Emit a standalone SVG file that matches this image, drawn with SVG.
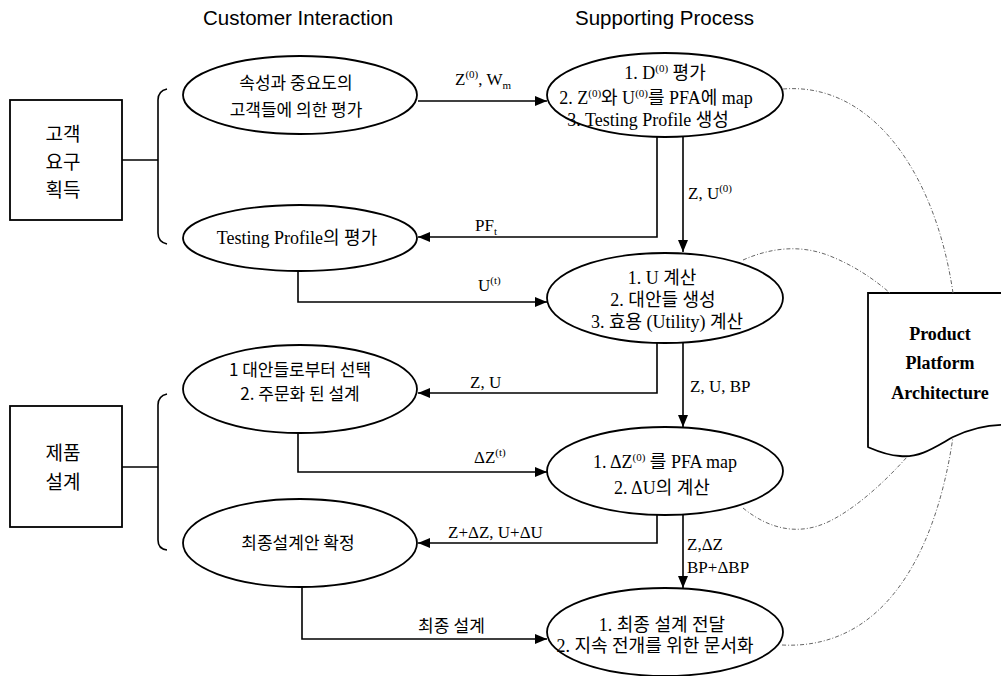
<svg xmlns="http://www.w3.org/2000/svg" width="1001" height="676" viewBox="0 0 1001 676">
<style>
.hdr{font-family:"Liberation Sans","Noto Sans CJK KR",sans-serif;font-size:20.5px;fill:#000}
.t{font-family:"Liberation Serif","Noto Sans CJK KR",serif;font-size:18px;fill:#000;text-anchor:middle}
.k{font-family:"Noto Sans CJK KR","Liberation Sans",sans-serif;font-size:17px;fill:#000;text-anchor:middle}
.bx{font-family:"Noto Sans CJK KR","Liberation Sans",sans-serif;font-size:19px;fill:#000;text-anchor:middle}
.lb{font-family:"Liberation Serif","Noto Sans CJK KR",serif;font-size:17px;fill:#000}
.pp{font-family:"Liberation Serif",serif;font-size:18px;font-weight:bold;fill:#000;text-anchor:middle}
.sh{fill:#fff;stroke:#000;stroke-width:1.8}
.ln{fill:none;stroke:#000;stroke-width:1.6}
.dt{fill:none;stroke:#666;stroke-width:1;stroke-dasharray:4 2 1 2}
</style>
<defs>
<marker id="ah" viewBox="0 0 12 10" refX="12" refY="5" markerWidth="12" markerHeight="10" markerUnits="userSpaceOnUse" orient="auto">
<path d="M0,0 L12,5 L0,10 Z" fill="#000"/>
</marker>
</defs>
<rect width="1001" height="676" fill="#fff"/>

<text class="hdr" x="203" y="25">Customer Interaction</text>
<text class="hdr" x="575" y="25">Supporting Process</text>

<g id="doc-pfa">
<path class="sh" d="M868,293 H1008 V425 C985,424 968,430 953,437 C935,447 920,458 900,456 C885,455 875,450 868,447 Z" stroke-width="2"/>
<text class="pp" x="940" y="340">Product</text>
<text class="pp" x="940" y="369">Platform</text>
<text class="pp" x="940" y="399">Architecture</text>
</g>

<g id="dotted">
<path class="dt" d="M783,89 C870,82 935,170 953,293"/>
<path class="dt" d="M743,260 C770,248 800,244 830,256 C855,266 875,280 890,293"/>
<path class="dt" d="M743,508 C770,530 800,536 830,521 C860,506 890,476 907,457"/>
<path class="dt" d="M782,645 C880,650 935,560 953,437"/>
</g>

<g id="box-req">
<rect class="sh" x="10" y="100" width="112" height="120"/>
<text class="bx" x="63" y="141">고객</text>
<text class="bx" x="63" y="169">요구</text>
<text class="bx" x="63" y="197">획득</text>
</g>
<g id="box-design">
<rect class="sh" x="10" y="406" width="112" height="121"/>
<text class="bx" x="63" y="460">제품</text>
<text class="bx" x="63" y="489">설계</text>
</g>

<g id="brackets">
<path class="ln" d="M122,160 H158"/>
<path class="ln" d="M167,89 Q158,91 158,100 V233 Q158,242 167,244"/>
<path class="ln" d="M122,467 H158"/>
<path class="ln" d="M167,394 Q158,396 158,405 V540 Q158,549 167,550"/>
</g>

<g id="connectors">
<path class="ln" d="M418,101 H547" marker-end="url(#ah)"/>
<path class="ln" d="M657,137 V237 H418" marker-end="url(#ah)"/>
<path class="ln" d="M683,137 V252" marker-end="url(#ah)"/>
<path class="ln" d="M298,270 V302 H547" marker-end="url(#ah)"/>
<path class="ln" d="M657,343 V393 H418" marker-end="url(#ah)"/>
<path class="ln" d="M683,343 V427" marker-end="url(#ah)"/>
<path class="ln" d="M298,433 V472 H547" marker-end="url(#ah)"/>
<path class="ln" d="M657,515 V543 H418" marker-end="url(#ah)"/>
<path class="ln" d="M683,515 V588" marker-end="url(#ah)"/>
<path class="ln" d="M302,587 V639 H547" marker-end="url(#ah)"/>

<text class="lb" x="455" y="85">Z<tspan font-size="11" dy="-7">(0)</tspan><tspan dy="7">, W</tspan><tspan font-size="11" dy="4">m</tspan></text>
<text class="lb" x="688" y="199">Z, U<tspan font-size="11" dy="-7">(0)</tspan></text>
<text class="lb" x="475" y="231">PF<tspan font-size="11" dy="4">t</tspan></text>
<text class="lb" x="478" y="291">U<tspan font-size="11" dy="-7">(t)</tspan></text>
<text class="lb" x="470" y="388">Z, U</text>
<text class="lb" x="690" y="392">Z, U, BP</text>
<text class="lb" x="474" y="463">ΔZ<tspan font-size="11" dy="-7">(t)</tspan></text>
<text class="lb" x="448" y="538">Z+ΔZ, U+ΔU</text>
<text class="lb" x="687" y="550">Z,ΔZ</text>
<text class="lb" x="687" y="573">BP+ΔBP</text>
<text class="lb" x="418" y="632" font-family="Noto Sans CJK KR, sans-serif" font-size="16">최종 설계</text>
</g>

<g id="node-l1">
<ellipse class="sh" cx="300" cy="95" rx="117" ry="39"/>
<text class="k" x="296" y="89">속성과 중요도의</text>
<text class="k" x="296" y="116">고객들에 의한 평가</text>
</g>
<g id="node-l2">
<ellipse class="sh" cx="300" cy="238" rx="117" ry="33"/>
<text class="t" x="297" y="244">Testing Profile의 평가</text>
</g>
<g id="node-l3">
<ellipse class="sh" cx="300" cy="389" rx="117" ry="44"/>
<text class="k" x="300" y="376">1 대안들로부터 선택</text>
<text class="k" x="300" y="400">2. 주문화 된 설계</text>
</g>
<g id="node-l4">
<ellipse class="sh" cx="300" cy="543" rx="117" ry="44"/>
<text class="k" x="298" y="549">최종설계안 확정</text>
</g>

<g id="node-r1">
<ellipse class="sh" cx="665" cy="95" rx="118" ry="42"/>
<text class="t" x="665" y="79">1. D<tspan font-size="11" dy="-7">(0)</tspan><tspan dy="7"> 평가</tspan></text>
<text class="t" x="656" y="104">2. Z<tspan font-size="11" dy="-7">(0)</tspan><tspan dy="7">와 U</tspan><tspan font-size="11" dy="-7">(0)</tspan><tspan dy="7">를 PFA에 map</tspan></text>
<text class="t" x="648" y="126">3. Testing Profile 생성</text>
</g>
<g id="node-r2">
<ellipse class="sh" cx="665" cy="298" rx="118" ry="45"/>
<text class="t" x="662" y="284">1. U 계산</text>
<text class="t" x="663" y="306">2. 대안들 생성</text>
<text class="t" x="667" y="328">3. 효용 (Utility) 계산</text>
</g>
<g id="node-r3">
<ellipse class="sh" cx="665" cy="471" rx="118" ry="44"/>
<text class="t" x="665" y="468">1. ΔZ<tspan font-size="11" dy="-7">(0)</tspan><tspan dy="7"> 를 PFA map</tspan></text>
<text class="t" x="662" y="494">2. ΔU의 계산</text>
</g>
<g id="node-r4">
<ellipse class="sh" cx="665" cy="632" rx="118" ry="44"/>
<text class="t" x="662" y="631">1. 최종 설계 전달</text>
<text class="t" x="655" y="652">2. 지속 전개를 위한 문서화</text>
</g>
</svg>
